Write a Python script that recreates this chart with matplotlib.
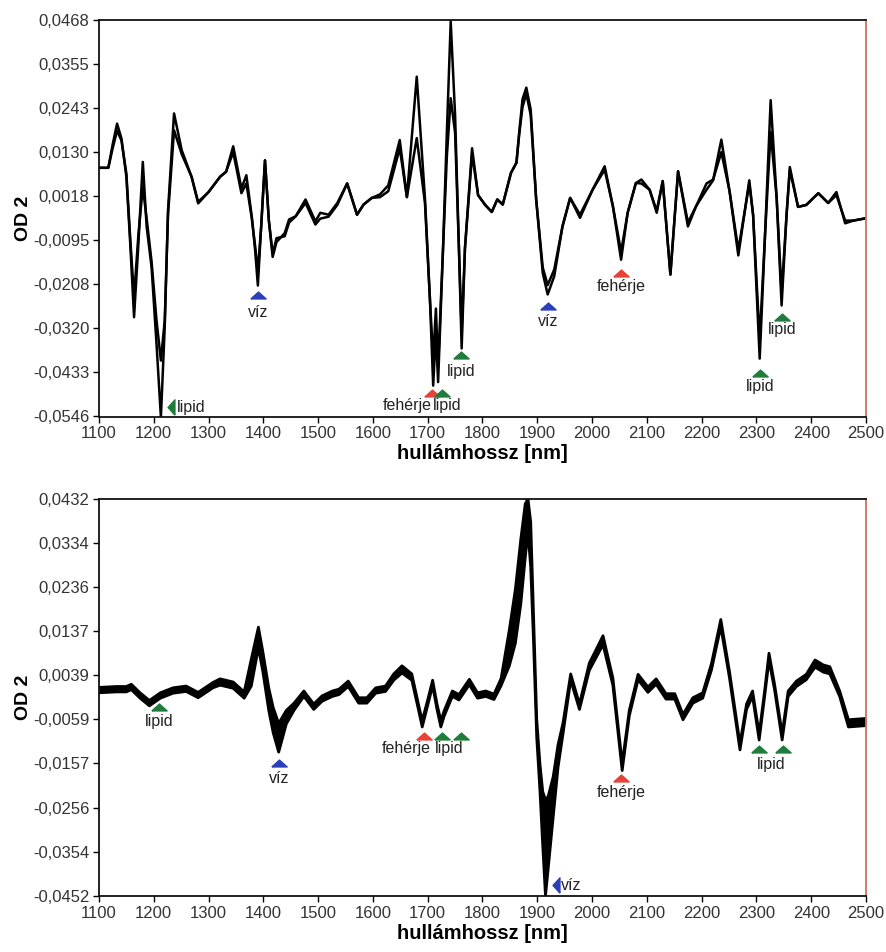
import matplotlib
matplotlib.use('Agg')
import numpy as np
import matplotlib.pyplot as plt

plt.rcParams['font.family'] = ['Liberation Sans', 'DejaVu Sans']

# ---- upper panel: spectra (extreme and mild curve)
top_wl = [1100, 1117, 1125, 1133, 1141, 1150, 1157, 1164, 1172, 1180,
          1187, 1196, 1205, 1213, 1220, 1226, 1237, 1251, 1269, 1281,
          1300, 1321, 1332, 1345, 1360, 1369, 1379, 1385, 1390, 1396,
          1403, 1410, 1417, 1424, 1439, 1447, 1459, 1477, 1495, 1504,
          1519, 1535, 1553, 1571, 1583, 1598, 1613, 1628, 1649, 1662,
          1680, 1695, 1704, 1710, 1715, 1719, 1728, 1735, 1742, 1750,
          1757, 1762, 1768, 1781, 1792, 1805, 1817, 1827, 1837, 1852,
          1862, 1867, 1873, 1880, 1888, 1898, 1910, 1919, 1931, 1946,
          1960, 1978, 2001, 2023, 2038, 2053, 2065, 2080, 2090, 2105,
          2118, 2129, 2143, 2157, 2175, 2190, 2209, 2221, 2236, 2251,
          2267, 2287, 2294, 2306, 2316, 2326, 2337, 2346, 2355, 2361,
          2376, 2391, 2413, 2431, 2446, 2462, 2477, 2500]
top_od_a = [0.0090, 0.0090, 0.0150, 0.0203, 0.0165, 0.0067, -0.0103, -0.0292, -0.0103, 0.0105,
            -0.0061, -0.0164, -0.0360, -0.0548, -0.0317, -0.0019, 0.0229, 0.0135, 0.0067, -0.0001,
            0.0028, 0.0067, 0.0080, 0.0145, 0.0037, 0.0071, -0.0036, -0.0121, -0.0211, -0.0061,
            0.0109, -0.0044, -0.0138, -0.0100, -0.0077, -0.0042, -0.0034, 0.0009, -0.0047, -0.0025,
            -0.0030, 0.0000, 0.0050, -0.0030, -0.0004, 0.0013, 0.0022, 0.0045, 0.0161, 0.0015,
            0.0323, 0.0012, -0.0244, -0.0467, -0.0330, -0.0458, -0.0116, 0.0182, 0.0464, 0.0225,
            -0.0116, -0.0372, -0.0116, 0.0140, 0.0020, -0.0005, -0.0023, 0.0009, -0.0004, 0.0077,
            0.0103, 0.0180, 0.0265, 0.0295, 0.0239, 0.0009, -0.0179, -0.0234, -0.0187, -0.0060,
            0.0013, -0.0038, 0.0034, 0.0094, -0.0008, -0.0145, -0.0025, 0.0051, 0.0060, 0.0034,
            -0.0025, 0.0056, -0.0183, 0.0081, -0.0060, -0.0008, 0.0034, 0.0058, 0.0162, 0.0030,
            -0.0134, 0.0058, -0.0031, -0.0398, -0.0074, 0.0263, 0.0012, -0.0262, -0.0031, 0.0092,
            -0.0010, -0.0005, 0.0025, 0.0000, 0.0028, -0.0052, -0.0045, -0.0039]
top_od_b = [0.0090, 0.0090, 0.0140, 0.0185, 0.0160, 0.0075, -0.0090, -0.0240, -0.0080, 0.0041,
            -0.0040, -0.0150, -0.0300, -0.0403, -0.0300, -0.0030, 0.0186, 0.0125, 0.0067, 0.0003,
            0.0028, 0.0067, 0.0080, 0.0130, 0.0025, 0.0050, -0.0040, -0.0110, -0.0175, -0.0061,
            0.0109, -0.0044, -0.0130, -0.0090, -0.0085, -0.0050, -0.0034, 0.0000, -0.0055, -0.0040,
            -0.0035, -0.0005, 0.0050, -0.0030, -0.0004, 0.0013, 0.0015, 0.0030, 0.0140, 0.0015,
            0.0166, 0.0000, -0.0244, -0.0400, -0.0270, -0.0420, -0.0116, 0.0120, 0.0268, 0.0180,
            -0.0116, -0.0330, -0.0116, 0.0125, 0.0020, -0.0005, -0.0023, 0.0009, -0.0004, 0.0077,
            0.0103, 0.0175, 0.0245, 0.0280, 0.0225, 0.0009, -0.0165, -0.0210, -0.0170, -0.0060,
            0.0013, -0.0030, 0.0034, 0.0085, -0.0008, -0.0125, -0.0025, 0.0051, 0.0050, 0.0034,
            -0.0020, 0.0056, -0.0183, 0.0081, -0.0050, -0.0008, 0.0050, 0.0060, 0.0130, 0.0030,
            -0.0120, 0.0050, -0.0031, -0.0350, -0.0074, 0.0182, 0.0012, -0.0230, -0.0031, 0.0085,
            -0.0010, -0.0005, 0.0025, 0.0000, 0.0020, -0.0045, -0.0045, -0.0039]
top_yticks = [0.0468, 0.0355, 0.0243, 0.0130, 0.0018, -0.0095, -0.0208, -0.0320, -0.0433, -0.0546]

# ---- lower panel: many spectra drawn as a band (centre and half width)
bot_wl = [1100, 1132, 1150, 1159, 1175, 1192, 1212, 1235, 1259, 1281,
          1308, 1321, 1345, 1365, 1378, 1391, 1399, 1410, 1418, 1428,
          1442, 1456, 1474, 1492, 1507, 1526, 1538, 1555, 1574, 1589,
          1605, 1623, 1638, 1653, 1671, 1683, 1690, 1701, 1709, 1717,
          1724, 1730, 1745, 1757, 1776, 1791, 1806, 1821, 1834, 1849,
          1860, 1870, 1878, 1883, 1888, 1893, 1899, 1905, 1910, 1915,
          1920, 1929, 1938, 1947, 1961, 1977, 1995, 2020, 2038, 2055,
          2068, 2084, 2102, 2117, 2135, 2151, 2166, 2184, 2202, 2218,
          2235, 2251, 2270, 2282, 2293, 2305, 2315, 2323, 2333, 2347,
          2358, 2373, 2391, 2407, 2422, 2434, 2452, 2468, 2500]
bot_od = [0.0006, 0.0008, 0.0008, 0.0013, -0.0006, -0.0023, -0.0006, 0.0005, 0.0009, -0.0005,
          0.0017, 0.0024, 0.0017, -0.0005, 0.0045, 0.0123, 0.0070, -0.0015, -0.0061, -0.0100,
          -0.0054, -0.0031, -0.0002, -0.0031, -0.0013, -0.0002, 0.0002, 0.0020, -0.0017, -0.0017,
          0.0005, 0.0009, 0.0035, 0.0052, 0.0035, -0.0031, -0.0069, -0.0017, 0.0022, -0.0031,
          -0.0069, -0.0046, -0.0002, -0.0010, 0.0024, -0.0006, -0.0002, -0.0009, 0.0024, 0.0100,
          0.0170, 0.0270, 0.0360, 0.0395, 0.0330, 0.0150, -0.0079, -0.0190, -0.0280, -0.0345,
          -0.0310, -0.0232, -0.0140, -0.0079, 0.0035, -0.0031, 0.0058, 0.0117, 0.0025, -0.0165,
          -0.0045, 0.0035, 0.0007, 0.0025, -0.0008, -0.0008, -0.0054, -0.0017, -0.0006, 0.0058,
          0.0155, 0.0039, -0.0120, -0.0031, -0.0002, -0.0098, -0.0002, 0.0080, 0.0014, -0.0098,
          -0.0002, 0.0020, 0.0035, 0.0065, 0.0054, 0.0050, -0.0002, -0.0068, -0.0065]
bot_hw = [0.0006, 0.0006, 0.0006, 0.0006, 0.0006, 0.0006, 0.0006, 0.0006, 0.0006, 0.0006,
          0.0006, 0.0007, 0.0007, 0.0007, 0.0030, 0.0023, 0.0022, 0.0025, 0.0028, 0.0032,
          0.0015, 0.0008, 0.0006, 0.0006, 0.0006, 0.0006, 0.0006, 0.0006, 0.0006, 0.0006,
          0.0006, 0.0006, 0.0007, 0.0008, 0.0007, 0.0006, 0.0007, 0.0006, 0.0006, 0.0006,
          0.0007, 0.0006, 0.0006, 0.0006, 0.0006, 0.0006, 0.0006, 0.0006, 0.0008, 0.0040,
          0.0060, 0.0072, 0.0060, 0.0037, 0.0050, 0.0030, 0.0020, 0.0030, 0.0060, 0.0107,
          0.0080, 0.0045, 0.0025, 0.0012, 0.0007, 0.0006, 0.0008, 0.0010, 0.0008, 0.0008,
          0.0006, 0.0006, 0.0006, 0.0006, 0.0006, 0.0006, 0.0006, 0.0006, 0.0006, 0.0007,
          0.0008, 0.0007, 0.0007, 0.0006, 0.0006, 0.0007, 0.0006, 0.0008, 0.0006, 0.0007,
          0.0006, 0.0006, 0.0006, 0.0008, 0.0008, 0.0008, 0.0006, 0.0008, 0.0008]
bot_yticks = [0.0432, 0.0334, 0.0236, 0.0137, 0.0039, -0.0059, -0.0157, -0.0256, -0.0354, -0.0452]

xticks = [1100, 1200, 1300, 1400, 1500, 1600, 1700, 1800, 1900, 2000, 2100, 2200, 2300, 2400, 2500]

# band assignments: (kind, wavelength, marker y, label, label x, label y, direction)
top_marks = [
    ('lipid', 1232, -0.0522, 'lipid', 1242, -0.0522, 'left'),
    ('viz', 1390, -0.0236, 'víz', 1390, -0.0279, 'up'),
    ('feh', 1707, -0.0487, 'fehérje', 1662, -0.0518, 'up'),
    ('lipid', 1726, -0.0487, 'lipid', 1736, -0.0518, 'up'),
    ('lipid', 1761, -0.0390, 'lipid', 1761, -0.0431, 'up'),
    ('viz', 1920, -0.0263, 'víz', 1920, -0.0302, 'up'),
    ('feh', 2053, -0.0179, 'fehérje', 2053, -0.0213, 'up'),
    ('lipid', 2306, -0.0436, 'lipid', 2306, -0.0469, 'up'),
    ('lipid', 2347, -0.0292, 'lipid', 2347, -0.0323, 'up'),
]
bot_marks = [
    ('lipid', 1209, -0.0031, 'lipid', 1209, -0.0063, 'up'),
    ('viz', 1428, -0.0156, 'víz', 1428, -0.0190, 'up'),
    ('feh', 1694, -0.0095, 'fehérje', 1661, -0.0125, 'up'),
    ('lipid', 1727, -0.0095, 'lipid', 1740, -0.0125, 'up'),
    ('lipid', 1760, -0.0095, None, 0, 0, 'up'),
    ('viz', 1934, -0.0428, 'víz', 1944, -0.0428, 'left'),
    ('feh', 2053, -0.0189, 'fehérje', 2053, -0.0222, 'up'),
    ('lipid', 2305, -0.0124, 'lipid', 2327, -0.0159, 'up'),
    ('lipid', 2348, -0.0124, None, 0, 0, 'up'),
]

colors = {'lipid': '#1f7d3c', 'viz': '#2b3fb8', 'feh': '#e5433a'}
tri_up = [(-1, -0.45), (1, -0.45), (0, 0.45), (-1, -0.45)]
tri_left = [(0.45, -1), (0.45, 1), (-0.45, 0), (0.45, -1)]


def style_axes(ax, yticks):
    ax.set_xlim(1100, 2500)
    ax.set_ylim(yticks[-1], yticks[0])
    ax.set_xticks(xticks)
    ax.set_yticks(yticks)
    ax.set_yticklabels([f'{v:.4f}'.replace('.', ',') for v in yticks])
    ax.tick_params(direction='out', length=4, width=1, labelsize=12, labelcolor='#333333', pad=3)
    for side in ['left', 'bottom', 'top']:
        ax.spines[side].set_color('#111111')
        ax.spines[side].set_linewidth(1.3)
    ax.spines['right'].set_color('#d07060')
    ax.spines['right'].set_linewidth(1.3)
    ax.set_xlabel('hullámhossz [nm]', fontsize=14.5, fontweight='bold', labelpad=2)
    ax.set_ylabel('OD 2', fontsize=14, fontweight='bold', labelpad=1)


def draw_marks(ax, marks):
    for kind, wl, y, label, lx, ly, direction in marks:
        marker = tri_left if direction == 'left' else tri_up
        ax.plot(wl, y, marker=marker, ms=11, color=colors[kind], mec=colors[kind],
                linestyle='none', zorder=5)
        if label:
            ha = 'left' if direction == 'left' else 'center'
            ax.text(lx, ly, label, fontsize=11.5, color='#222222', ha=ha, va='center')


fig = plt.figure(figsize=(8.87, 9.52), dpi=100)

ax1 = fig.add_axes([0.1116, 0.5625, 0.8647, 0.4165])
for series in (top_od_b, top_od_a):
    ax1.plot(top_wl, series, color='black', lw=1.8, solid_joinstyle='round')
style_axes(ax1, top_yticks)
draw_marks(ax1, top_marks)

ax2 = fig.add_axes([0.1116, 0.0588, 0.8647, 0.4175])
lower = np.array(bot_od) - np.array(bot_hw)
upper = np.array(bot_od) + np.array(bot_hw)
ax2.fill_between(bot_wl, lower, upper, color='black', lw=0)
ax2.plot(bot_wl, lower, color='black', lw=2.0, solid_joinstyle='round')
ax2.plot(bot_wl, upper, color='black', lw=2.0, solid_joinstyle='round')
style_axes(ax2, bot_yticks)
draw_marks(ax2, bot_marks)

fig.savefig('out.png', dpi=100)
